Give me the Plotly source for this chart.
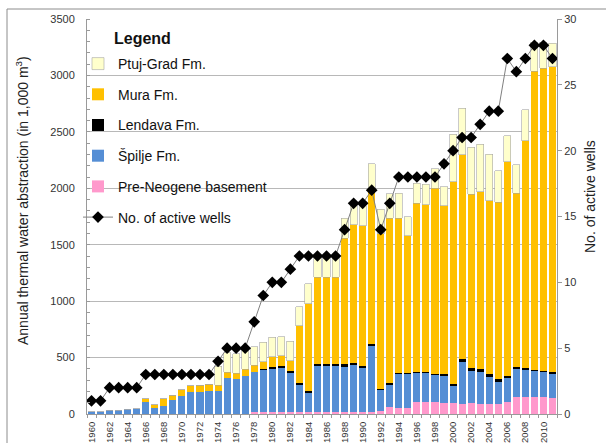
import plotly.graph_objects as go

# Years of record
years = list(range(1960, 2012))

# Annual thermal water abstraction per aquifer (in 1,000 m3), stacked bottom to top
pre_neogene = [0, 0, 0, 0, 0, 0, 0, 0, 0, 0,
               0, 0, 0, 0, 0, 0, 0, 0, 18, 18,
               20, 20, 20, 20, 20, 20, 20, 20, 20, 20,
               20, 20, 25, 65, 50, 55, 109, 105, 105, 100,
               95, 86, 100, 89, 86, 86, 109, 153, 153, 148,
               148, 145]
spilje = [20, 20, 33, 33, 44, 46, 105, 54, 73, 127,
          160, 198, 198, 207, 204, 316, 307, 339, 357, 372,
          382, 388, 346, 237, 169, 403, 403, 403, 405, 420,
          390, 583, 188, 198, 311, 306, 257, 261, 241, 237,
          156, 378, 284, 286, 245, 200, 207, 249, 237, 236,
          227, 216]
lendava = [0, 0, 0, 0, 0, 0, 0, 0, 0, 0,
           0, 0, 0, 0, 0, 0, 0, 0, 0, 10,
           18, 17, 18, 20, 15, 18, 18, 18, 16, 15,
           15, 15, 11, 14, 5, 5, 8, 8, 8, 15,
           15, 21, 21, 21, 24, 22, 24, 17, 15, 8,
           8, 15]
mura = [0, 0, 0, 0, 0, 0, 32, 30, 60, 41,
        53, 53, 56, 57, 51, 56, 54, 57, 57, 64,
        88, 89, 86, 503, 771, 771, 771, 771, 1116, 1220,
        1242, 1368, 1372, 1458, 1369, 1212, 1494, 1479, 1647, 1492,
        1794, 1811, 1543, 1575, 1533, 1569, 1894, 1538, 2018, 2643,
        2682, 2703]
ptuj_grad = [0, 0, 0, 0, 0, 0, 0, 0, 0, 0,
             0, 0, 0, 0, 169, 169, 171, 174, 165, 172,
             172, 171, 174, 171, 180, 182, 182, 182, 178, 193,
             177, 230, 219, 215, 222, 171, 177, 183, 171, 171,
             420, 414, 416, 420, 414, 280, 230, 250, 272, 257,
             227, 207]

# Number of active wells (right axis)
active_wells = [1, 1, 2, 2, 2, 2, 3, 3, 3, 3,
                3, 3, 3, 3, 4, 5, 5, 5, 7, 9,
                10, 10, 11, 12, 12, 12, 12, 12, 14, 16,
                16, 17, 14, 16, 18, 18, 18, 18, 18, 19,
                20, 21, 21, 22, 23, 23, 27, 26, 27, 28,
                28, 27]

x_tick_years = list(range(1960, 2011, 2))

FONT = "Liberation Sans, Arial, sans-serif"

# Plot area in pixels (used to place annotations in paper coordinates)
W, H = 606, 443
L, R, T, B = 87, 49, 19, 29
PW, PH = W - L - R, H - T - B


def px(xp):
    return (xp - L) / PW


def py(yp):
    return (H - B - yp) / PH


fig = go.Figure()

bar_series = [
    ("Pre-Neogene basement", pre_neogene, "#FF99CC", 5),
    ("Špilje Fm.", spilje, "#558ED5", 4),
    ("Lendava Fm.", lendava, "#000000", 3),
    ("Mura Fm.", mura, "#FFC000", 2),
    ("Ptuj-Grad Fm.", ptuj_grad, "#FFFFCC", 1),
]
for name, vals, color, rank in bar_series:
    outlined = name.startswith("Ptuj")
    fig.add_trace(go.Bar(
        x=years, y=vals, name=name,
        marker=dict(color=color,
                    line=dict(color="#a6a6a6" if outlined else color,
                              width=0.6 if outlined else 0)),
        legendgroup=name, legendrank=rank,
        yaxis="y",
    ))

fig.add_trace(go.Scatter(
    x=years, y=active_wells, name="No. of active wells",
    mode="lines+markers",
    line=dict(color="#808080", width=1),
    marker=dict(symbol="diamond", size=9, color="#000000"),
    legendgroup="wells", legendrank=6,
    yaxis="y2",
))

fig.update_layout(
    width=W, height=H,
    margin=dict(l=L, r=R, t=T, b=B, autoexpand=False),
    paper_bgcolor="white", plot_bgcolor="white",
    barmode="stack", bargap=0.22,
    font=dict(family=FONT, color="#222222"),
    showlegend=True,
    legend=dict(
        x=px(78), y=py(48), xanchor="left", yanchor="top",
        traceorder="grouped", tracegroupgap=9.5,
        font=dict(size=14, family=FONT, color="#111111"),
        bgcolor="rgba(0,0,0,0)", borderwidth=0,
    ),
    xaxis=dict(
        range=[1959.5, 2011.5], automargin=False,
        tickmode="array", tickvals=x_tick_years,
        ticktext=[str(y) for y in x_tick_years],
        tickangle=-90, tickfont=dict(size=9.5, color="#333333"),
        ticks="outside", ticklen=3, tickcolor="rgba(0,0,0,0)",
        minor=dict(tickmode="linear", tick0=1959.5, dtick=1,
                   ticks="outside", ticklen=3, tickcolor="#9a9a9a"),
        showline=True, linecolor="#9a9a9a", linewidth=1,
        showgrid=False, zeroline=False, fixedrange=True,
    ),
    yaxis=dict(
        range=[0, 3500], dtick=500, automargin=False,
        tickfont=dict(size=11, color="#333333"),
        ticks="outside", ticklen=9, tickcolor="rgba(0,0,0,0)",
        minor=dict(dtick=100, ticks="inside", ticklen=3, tickcolor="#9a9a9a",
                   showgrid=False),
        showline=True, linecolor="#9a9a9a", linewidth=1,
        showgrid=True, gridcolor="#b8b8b8", gridwidth=1,
        zeroline=False,
    ),
    yaxis2=dict(
        range=[0, 30], dtick=5, automargin=False,
        overlaying="y", side="right",
        tickfont=dict(size=11, color="#333333"),
        ticks="outside", ticklen=4, tickcolor="#9a9a9a",
        showline=True, linecolor="#9a9a9a", linewidth=1,
        showgrid=False, zeroline=False,
    ),
    annotations=[
        dict(text="Annual thermal water abstraction (in 1,000 m<sup>3</sup>)",
             xref="paper", yref="paper", x=px(22), y=py(201),
             xanchor="center", yanchor="middle", textangle=-90,
             showarrow=False, font=dict(size=14, family=FONT, color="#222222")),
        dict(text="No. of active wells",
             xref="paper", yref="paper", x=px(590), y=py(197),
             xanchor="center", yanchor="middle", textangle=-90,
             showarrow=False, font=dict(size=14, family=FONT, color="#222222")),
        dict(text="<b>Legend</b>",
             xref="paper", yref="paper", x=px(112), y=py(38),
             xanchor="left", yanchor="middle",
             showarrow=False, font=dict(size=16, family=FONT, color="#111111")),
    ],
    shapes=[
        dict(type="rect", xref="paper", yref="paper",
             x0=px(7), x1=px(612), y0=py(448), y1=py(9),
             line=dict(color="#8c8c8c", width=1), fillcolor="rgba(0,0,0,0)",
             layer="below"),
    ],
)

fig.write_html("out.html")
